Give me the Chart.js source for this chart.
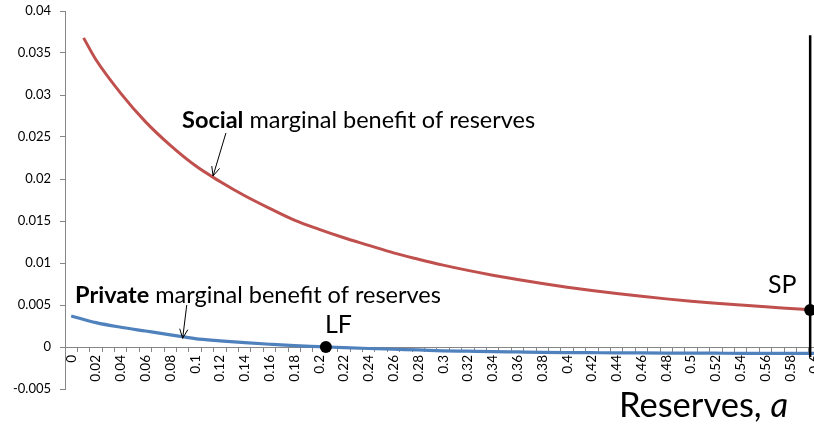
<!DOCTYPE html>
<html>
<head>
<meta charset="utf-8">
<script src="https://cdn.jsdelivr.net/npm/chart.js@4/dist/chart.umd.min.js"></script>
<style>
  html, body { margin: 0; padding: 0; background: #fff; overflow: hidden; }
  #wrap { width: 840px; height: 428px; }
</style>
</head>
<body>
<div id="wrap"><canvas id="c" width="840" height="428"></canvas></div>
<script>
// Reserves a (x) and the two marginal-benefit curves
const privateX = [0, 0.02, 0.04, 0.06, 0.08, 0.10, 0.12, 0.14, 0.16, 0.18, 0.20,
  0.22, 0.24, 0.26, 0.28, 0.30, 0.32, 0.34, 0.36, 0.38, 0.40,
  0.42, 0.44, 0.46, 0.48, 0.50, 0.52, 0.54, 0.56, 0.58, 0.60];
const privateY = [0.0037, 0.0029, 0.00235, 0.0019, 0.00145, 0.0010, 0.00074, 0.00052, 0.00033, 0.00016, 0.00004,
  -0.00008, -0.00018, -0.00027, -0.00035, -0.00045, -0.0005, -0.00055, -0.00059, -0.00063, -0.00066,
  -0.00068, -0.0007, -0.00071, -0.00072, -0.00073, -0.00074, -0.00075, -0.00075, -0.00076, -0.00076];

const socialX = [0.01, 0.02, 0.04, 0.06, 0.08, 0.10, 0.12, 0.14, 0.16, 0.18, 0.20,
  0.22, 0.24, 0.26, 0.28, 0.30, 0.32, 0.34, 0.36, 0.38, 0.40,
  0.42, 0.44, 0.46, 0.48, 0.50, 0.52, 0.54, 0.56, 0.58, 0.60];
const socialY = [0.0368, 0.0342, 0.0302, 0.0268, 0.0240, 0.0216, 0.0197, 0.0180, 0.0165, 0.0151, 0.0140,
  0.0130, 0.0121, 0.0112, 0.01045, 0.00975, 0.00912, 0.00855, 0.00803, 0.00755, 0.00712,
  0.00672, 0.00636, 0.00603, 0.00573, 0.00546, 0.00521, 0.00499, 0.00478, 0.00459, 0.0044];

// Laissez-faire (LF) and social-planner (SP) reserve levels
const equilibriumX = [0.2054, 0.596];
const equilibriumY = [0, 0.0044];
const equilibriumNames = ['LF', 'SP'];

// Vertical marker at the planner's choice
const plannerLineX = [0.596, 0.596];
const plannerLineY = [-0.0012, 0.0371];

// Axis ticks
const xTickValues = [0, 0.02, 0.04, 0.06, 0.08, 0.1, 0.12, 0.14, 0.16, 0.18, 0.2,
  0.22, 0.24, 0.26, 0.28, 0.3, 0.32, 0.34, 0.36, 0.38, 0.4,
  0.42, 0.44, 0.46, 0.48, 0.5, 0.52, 0.54, 0.56, 0.58, 0.6];
const xTickLabels = ['0', '0.02', '0.04', '0.06', '0.08', '0.1', '0.12', '0.14', '0.16', '0.18', '0.2',
  '0.22', '0.24', '0.26', '0.28', '0.3', '0.32', '0.34', '0.36', '0.38', '0.4',
  '0.42', '0.44', '0.46', '0.48', '0.5', '0.52', '0.54', '0.56', '0.58', '0.6'];
const yTickValues = [-0.005, 0, 0.005, 0.01, 0.015, 0.02, 0.025, 0.03, 0.035, 0.04];
const yTickLabels = ['-0.005', '0', '0.005', '0.01', '0.015', '0.02', '0.025', '0.03', '0.035', '0.04'];

// tick marks sit between the 0.01-wide reserve steps
const xStepEdges = [];
for (let i = 0; i <= 62; i++) xStepEdges.push(+(-0.005 + i * 0.01).toFixed(3));

const FONT = 'Lato, "Open Sans", sans-serif';
const AXIS_GREY = '#868686';
const RED = '#C0504D';
const BLUE = '#4F81BD';

const pts = (xs, ys) => xs.map((x, i) => ({ x, y: ys[i] }));

// Text notes and arrows, anchored in data units
const notes = [
  { x: 0.0894, y: 0.02607, bold: 'Social', rest: ' marginal benefit of reserves', size: 23.5 },
  { x: 0.0031, y: 0.00524, bold: 'Private', rest: ' marginal benefit of reserves', size: 23.5 },
  { x: 0.2047, y: 0.00167, rest: 'LF', size: 25 },
  { x: 0.5619, y: 0.00643, rest: 'SP', size: 25 },
  { x: 0.4418, y: -0.00833, rest: 'Reserves, ', italic: 'a', size: 34.5 }
];
const arrows = [
  { from: [0.1248, 0.02548], to: [0.1144, 0.02036] },
  { from: [0.0932, 0.0050], to: [0.0899, 0.00104] }
];

const notesPlugin = {
  id: 'notes',
  afterDatasetsDraw(chart) {
    const { ctx, scales: { x, y } } = chart;
    ctx.save();
    ctx.fillStyle = '#000';
    ctx.textBaseline = 'alphabetic';
    ctx.textAlign = 'left';
    notes.forEach(n => {
      let px = x.getPixelForValue(n.x);
      const py = y.getPixelForValue(n.y);
      if (n.bold) {
        ctx.font = `bold ${n.size}px ${FONT}`;
        ctx.fillText(n.bold, px, py);
        px += ctx.measureText(n.bold).width;
      }
      ctx.font = `${n.size}px ${FONT}`;
      ctx.fillText(n.rest, px, py);
      if (n.italic) {
        px += ctx.measureText(n.rest).width;
        ctx.font = `italic ${n.size}px ${FONT}`;
        ctx.fillText(n.italic, px, py);
      }
    });
    ctx.strokeStyle = '#000';
    ctx.lineWidth = 1;
    arrows.forEach(a => {
      const x0 = x.getPixelForValue(a.from[0]), y0 = y.getPixelForValue(a.from[1]);
      const x1 = x.getPixelForValue(a.to[0]), y1 = y.getPixelForValue(a.to[1]);
      const ang = Math.atan2(y1 - y0, x1 - x0);
      const len = 10, spread = 0.42;
      ctx.beginPath();
      ctx.moveTo(x0, y0);
      ctx.lineTo(x1, y1);
      ctx.moveTo(x1 - len * Math.cos(ang - spread), y1 - len * Math.sin(ang - spread));
      ctx.lineTo(x1, y1);
      ctx.lineTo(x1 - len * Math.cos(ang + spread), y1 - len * Math.sin(ang + spread));
      ctx.stroke();
    });
    ctx.restore();
  }
};

new Chart(document.getElementById('c'), {
  type: 'scatter',
  data: {
    datasets: [
      { label: 'Private', data: pts(privateX, privateY), showLine: true, borderColor: BLUE,
        borderWidth: 3.2, pointRadius: 0, cubicInterpolationMode: 'monotone', order: 4 },
      { label: 'Social', data: pts(socialX, socialY), showLine: true, borderColor: RED,
        borderWidth: 3, pointRadius: 0, cubicInterpolationMode: 'monotone', order: 3 },
      { label: 'Planner', data: pts(plannerLineX, plannerLineY), showLine: true, borderColor: '#000',
        borderWidth: 2.5, pointRadius: 0, order: 2 },
      { label: 'Equilibria', data: pts(equilibriumX, equilibriumY), showLine: false,
        pointRadius: 6, pointBackgroundColor: '#000', pointBorderColor: '#000', pointBorderWidth: 0, order: 1 }
    ]
  },
  options: {
    responsive: false,
    devicePixelRatio: 1,
    animation: false,
    layout: { padding: { left: 0, top: 11, right: 10, bottom: 39 } },
    plugins: { legend: { display: false }, tooltip: { enabled: false } },
    scales: {
      x: {
        type: 'linear', min: -0.005, max: 0.612,
        position: { y: 0 },
        afterBuildTicks: s => { s.ticks = xTickValues.map(v => ({ value: v })); },
        ticks: {
          autoSkip: false, minRotation: 90, maxRotation: 90, padding: 3,
          color: '#000', font: { family: FONT, size: 13.5 },
          callback: (v, i) => xTickLabels[i]
        },
        grid: { display: true, drawOnChartArea: false, drawTicks: true, tickLength: 5, color: 'rgba(0,0,0,0)' },
        border: { display: true, color: AXIS_GREY, width: 1 }
      },
      xSteps: {
        type: 'linear', axis: 'x', min: -0.005, max: 0.612,
        position: { y: 0 },
        afterBuildTicks: s => { s.ticks = xStepEdges.map(v => ({ value: v })); },
        ticks: { display: false },
        grid: { display: true, drawOnChartArea: false, drawTicks: true, tickLength: 5, color: AXIS_GREY, lineWidth: 1 },
        border: { display: false }
      },
      y: {
        type: 'linear', min: -0.005, max: 0.04,
        afterBuildTicks: s => { s.ticks = yTickValues.map(v => ({ value: v })); },
        afterFit: s => { s.width = 65; s.paddingTop = 0; s.paddingBottom = 0; },
        ticks: {
          padding: 9, color: '#000', font: { family: FONT, size: 13 },
          callback: (v, i) => yTickLabels[i]
        },
        grid: { display: true, drawOnChartArea: false, drawTicks: true, tickLength: 5, color: AXIS_GREY, lineWidth: 1 },
        border: { display: true, color: AXIS_GREY, width: 1 }
      }
    }
  },
  plugins: [notesPlugin]
});
</script>
</body>
</html>
